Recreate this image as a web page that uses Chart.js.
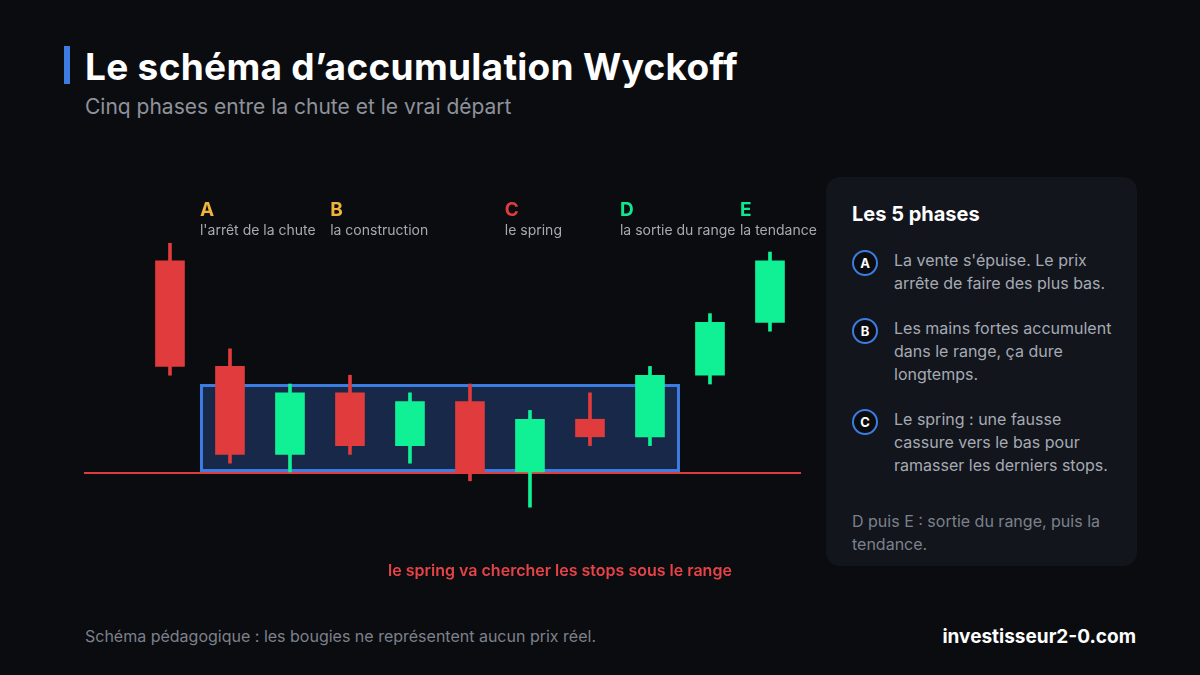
<!DOCTYPE html>
<html lang="fr">
<head>
<meta charset="utf-8">
<script src="https://cdn.jsdelivr.net/npm/chart.js@4.4.1/dist/chart.umd.min.js"></script>
<style>
  html, body { margin: 0; padding: 0; }
  body {
    width: 1200px; height: 675px; overflow: hidden; position: relative;
    background: #0b0c10; font-family: Inter, "Noto Sans", sans-serif; color: #fff;
  }
  .bar { position: absolute; left: 64px; top: 46px; width: 6px; height: 38px; background: #3b7de0; }
  h1 { position: absolute; left: 85px; top: 43px; margin: 0; font-size: 37px; font-weight: 700; letter-spacing: 0.3px; line-height: 48px; }
  .sub { position: absolute; left: 85px; top: 94px; font-size: 21px; color: #8e929b; line-height: 26px; }
  #wrap { position: absolute; left: 84px; top: 190px; width: 740px; height: 400px; }
  .panel {
    position: absolute; left: 826px; top: 177px; width: 311px; height: 389px;
    background: #12151c; border-radius: 14px;
  }
  .panel h2 { position: absolute; left: 26px; top: 24px; margin: 0; font-size: 20px; font-weight: 700; line-height: 26px; }
  .item { position: absolute; left: 68px; width: 226px; font-size: 16px; line-height: 23px; color: #a6aab3; }
  .dot {
    position: absolute; left: -42px; top: 1px; width: 22px; height: 22px; border-radius: 50%;
    border: 2px solid #3b7de0; background: #0b0c10; color: #fff; font-size: 13px; font-weight: 700;
    text-align: center; line-height: 22px;
  }
  .note { position: absolute; left: 26px; top: 333px; width: 270px; font-size: 16px; line-height: 23px; color: #7c818b; }
  .foot { position: absolute; left: 85px; top: 626px; font-size: 16px; color: #7c818b; }
  .brand { position: absolute; right: 64px; top: 625px; font-size: 19px; font-weight: 700; color: #fff; }
</style>
</head>
<body>
<div class="bar"></div>
<h1>Le schéma d’accumulation Wyckoff</h1>
<div class="sub">Cinq phases entre la chute et le vrai départ</div>

<div id="wrap"><canvas id="chart"></canvas></div>

<div class="panel">
  <h2>Les 5 phases</h2>
  <div class="item" style="top:72px"><span class="dot">A</span>La vente s'épuise. Le prix arrête de faire des plus bas.</div>
  <div class="item" style="top:140px"><span class="dot">B</span>Les mains fortes accumulent dans le range, ça dure longtemps.</div>
  <div class="item" style="top:231px"><span class="dot">C</span>Le spring : une fausse cassure vers le bas pour ramasser les derniers stops.</div>
  <div class="note">D puis E : sortie du range, puis la tendance.</div>
</div>

<div class="foot">Schéma pédagogique : les bougies ne représentent aucun prix réel.</div>
<div class="brand">investisseur2-0.com</div>

<script>
// bougies fictives (unités arbitraires, support = 100)
const opens  = [124, 112, 102, 109, 103, 108, 100, 106, 104, 111, 117];
const highs  = [126, 114, 110, 111, 109, 110, 107, 109, 112, 118, 125];
const lows   = [111, 101, 100, 102, 101,  99,  96, 103, 103, 110, 116];
const closes = [112, 102, 109, 103, 108, 100, 106, 104, 111, 117, 124];

const rangeLow = 100;
const rangeHigh = 110;
const rangeFrom = 0.5;
const rangeTo = 8.5;

const phaseLetters = ['A', 'B', 'C', 'D', 'E'];
const phaseNames = ["l'arrêt de la chute", 'la construction', 'le spring', 'la sortie du range', 'la tendance'];
const phaseAt = [0.5, 2.67, 5.58, 7.5, 9.5];
const springNote = 'le spring va chercher les stops sous le range';

const RED = '#e03b3d';
const GREEN = '#10f095';
const phaseColors = ['#f0b43c', '#f0b43c', '#e03b3d', '#10e890', '#10e890'];

const colors = opens.map((o, i) => closes[i] >= o ? GREEN : RED);
const bodies = opens.map((o, i) => ({ x: i, y: [o, closes[i]] }));
const wicks = lows.map((l, i) => ({ x: i, y: [l, highs[i]] }));

// zone du range + support, dessinés sous les bougies
const rangePlugin = {
    id: 'range',
    beforeDatasetsDraw(chart) {
        const { ctx, scales: { x, y }, chartArea } = chart;
        const x0 = x.getPixelForValue(rangeFrom), x1 = x.getPixelForValue(rangeTo);
        const y0 = y.getPixelForValue(rangeHigh), y1 = y.getPixelForValue(rangeLow);
        ctx.save();
        ctx.fillStyle = '#182848';
        ctx.fillRect(x0, y0, x1 - x0, y1 - y0);
        ctx.strokeStyle = '#3b7de0';
        ctx.lineWidth = 3;
        ctx.strokeRect(x0 + 1.5, y0 + 1.5, x1 - x0 - 3, y1 - y0 - 3);
        ctx.strokeStyle = RED;
        ctx.lineWidth = 2;
        ctx.beginPath();
        ctx.moveTo(chartArea.left, y1 + 1);
        ctx.lineTo(chartArea.right, y1 + 1);
        ctx.stroke();
        ctx.restore();
    }
};

// étiquettes des phases et note du spring
const labelsPlugin = {
    id: 'phaseLabels',
    afterDatasetsDraw(chart) {
        const { ctx, scales: { x, y } } = chart;
        ctx.save();
        ctx.textBaseline = 'middle';
        ctx.textAlign = 'left';
        phaseLetters.forEach((l, i) => {
            const px = x.getPixelForValue(phaseAt[i]);
            ctx.fillStyle = phaseColors[i];
            ctx.font = '700 19px Inter, sans-serif';
            ctx.fillText(l, px, 20);
            ctx.fillStyle = '#a6aab3';
            ctx.font = '400 14px Inter, sans-serif';
            ctx.fillText(phaseNames[i], px, 41);
        });
        ctx.textAlign = 'center';
        ctx.fillStyle = '#e54346';
        ctx.font = '600 16px Inter, sans-serif';
        ctx.fillText(springNote, x.getPixelForValue(6.5), y.getPixelForValue(88.75));
        ctx.restore();
    }
};

new Chart(document.getElementById('chart'), {
    type: 'bar',
    data: {
        datasets: [
            { data: wicks, backgroundColor: colors, barThickness: 3, grouped: false },
            { data: bodies, backgroundColor: colors, barThickness: 29, grouped: false }
        ]
    },
    options: {
        responsive: true,
        maintainAspectRatio: false,
        animation: false,
        layout: { padding: { left: 0, top: 0, bottom: 0, right: 23 } },
        plugins: { legend: { display: false }, tooltip: { enabled: false } },
        scales: {
            x: { type: 'linear', min: -1.433, max: 10.517, offset: false, display: false },
            y: { min: 86.59, max: 132.05, display: false }
        }
    },
    plugins: [rangePlugin, labelsPlugin]
});
</script>
</body>
</html>
